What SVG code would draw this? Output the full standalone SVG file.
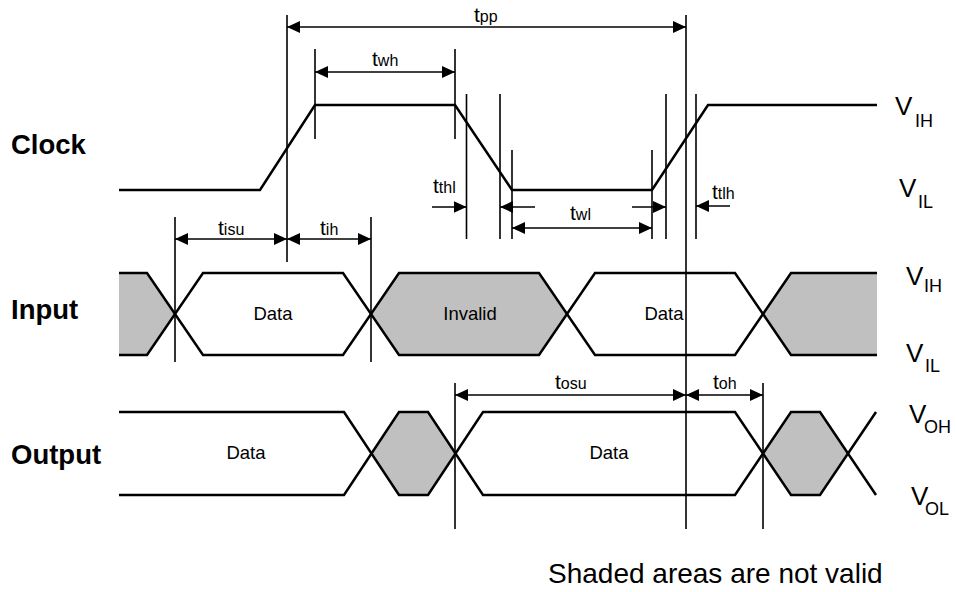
<svg xmlns="http://www.w3.org/2000/svg" width="956" height="592" viewBox="0 0 956 592">
<style>
text{font-family:"Liberation Sans",Arial,sans-serif;fill:#000}
.lbl{font-size:27.5px;font-weight:bold}
.dt{font-size:18.5px;text-anchor:middle}
.tm{font-size:21px}
.ts{font-size:16px}
.vm{font-size:26px}
.vs{font-size:18px}
.wave{fill:none;stroke:#000;stroke-width:2.5;stroke-linejoin:miter}
.ref{stroke:#000;stroke-width:1.6}
.dim{stroke:#000;stroke-width:1.6;fill:none}
.shade{fill:#c0c0c0;stroke:none}
</style>
<defs>
<marker id="ah" markerUnits="userSpaceOnUse" markerWidth="13" markerHeight="12" refX="13" refY="6" orient="auto-start-reverse">
<path d="M0,0 L13,6 L0,12 z" fill="#000"/>
</marker>
</defs>
<rect width="956" height="592" fill="#fff"/>

<g id="clock">
<polyline class="wave" points="119,190 260,190 315,105 455,105 512,190 652,190 708,105 877,105"/>
<text class="lbl" x="11" y="154">Clock</text>
<text x="895" y="115"><tspan class="vm">V</tspan></text>
<text x="915" y="127"><tspan class="vs">IH</tspan></text>
<text x="899" y="197"><tspan class="vm">V</tspan></text>
<text x="918" y="208"><tspan class="vs">IL</tspan></text>
</g>

<g id="input">
<polygon class="shade" points="119,273 147,273 175,314 147,355 119,355"/>
<polygon class="shade" points="371,314 399,273 539,273 567,314 539,355 399,355"/>
<polygon class="shade" points="763,314 791,273 877,273 877,355 791,355"/>
<path class="wave" d="M119,273 H147 L203,355 H343 L399,273 H539 L595,355 H735 L791,273 H877"/>
<path class="wave" d="M119,355 H147 L203,273 H343 L399,355 H539 L595,273 H735 L791,355 H877"/>
<text class="lbl" x="11" y="319">Input</text>
<text class="dt" x="273" y="320">Data</text>
<text class="dt" x="470" y="320">Invalid</text>
<text class="dt" x="664" y="320">Data</text>
<text x="906" y="285"><tspan class="vm">V</tspan></text>
<text x="924" y="292"><tspan class="vs">IH</tspan></text>
<text x="906" y="362"><tspan class="vm">V</tspan></text>
<text x="925" y="372"><tspan class="vs">IL</tspan></text>
</g>

<g id="output">
<polygon class="shade" points="371.5,453.5 399,412 428,412 455.5,453.5 428,495 399,495"/>
<polygon class="shade" points="763,453.5 791,412 820,412 848,453.5 820,495 791,495"/>
<path class="wave" d="M119,412 H344 L399,495 H428 L483,412 H735 L791,495 H820 L876,412"/>
<path class="wave" d="M119,495 H344 L399,412 H428 L483,495 H735 L791,412 H820 L876,495"/>
<text class="lbl" x="11" y="464">Output</text>
<text class="dt" x="246" y="459">Data</text>
<text class="dt" x="609" y="459">Data</text>
<text x="909" y="423"><tspan class="vm">V</tspan></text>
<text x="924" y="433"><tspan class="vs">OH</tspan></text>
<text x="911" y="505"><tspan class="vm">V</tspan></text>
<text x="925" y="515"><tspan class="vs">OL</tspan></text>
</g>

<g id="connectors">
<line class="ref" x1="287" y1="15" x2="287" y2="262"/>
<line class="ref" x1="315" y1="49" x2="315" y2="139"/>
<line class="ref" x1="455" y1="49" x2="455" y2="139"/>
<line class="ref" x1="466.5" y1="94" x2="466.5" y2="239"/>
<line class="ref" x1="500" y1="94" x2="500" y2="239"/>
<line class="ref" x1="512" y1="150" x2="512" y2="239"/>
<line class="ref" x1="652" y1="150" x2="652" y2="239"/>
<line class="ref" x1="666" y1="94" x2="666" y2="239"/>
<line class="ref" x1="686" y1="15" x2="686" y2="529"/>
<line class="ref" x1="696" y1="94" x2="696" y2="239"/>
<line class="ref" x1="175" y1="217" x2="175" y2="362"/>
<line class="ref" x1="371" y1="217" x2="371" y2="362"/>
<line class="ref" x1="455" y1="383" x2="455" y2="529"/>
<line class="ref" x1="763" y1="383" x2="763" y2="529"/>

<line class="dim" x1="287" y1="27" x2="686" y2="27" marker-start="url(#ah)" marker-end="url(#ah)"/>
<line class="dim" x1="315" y1="72" x2="455" y2="72" marker-start="url(#ah)" marker-end="url(#ah)"/>
<line class="dim" x1="432" y1="207" x2="466.5" y2="207" marker-end="url(#ah)"/>
<line class="dim" x1="535" y1="207" x2="500" y2="207" marker-end="url(#ah)"/>
<line class="dim" x1="632" y1="207" x2="666" y2="207" marker-end="url(#ah)"/>
<line class="dim" x1="730" y1="206" x2="696" y2="206" marker-end="url(#ah)"/>
<line class="dim" x1="512" y1="228" x2="652" y2="228" marker-start="url(#ah)" marker-end="url(#ah)"/>
<line class="dim" x1="175" y1="239" x2="287" y2="239" marker-start="url(#ah)" marker-end="url(#ah)"/>
<line class="dim" x1="287" y1="239" x2="371" y2="239" marker-start="url(#ah)" marker-end="url(#ah)"/>
<line class="dim" x1="455" y1="395" x2="686" y2="395" marker-start="url(#ah)" marker-end="url(#ah)"/>
<line class="dim" x1="686" y1="395" x2="763" y2="395" marker-start="url(#ah)" marker-end="url(#ah)"/>
</g>

<g id="labels">
<text x="474" y="22"><tspan class="tm">t</tspan><tspan class="ts">pp</tspan></text>
<text x="372" y="66"><tspan class="tm">t</tspan><tspan class="ts">wh</tspan></text>
<text x="433" y="193"><tspan class="tm">t</tspan><tspan class="ts">thl</tspan></text>
<text x="570" y="220"><tspan class="tm">t</tspan><tspan class="ts">wl</tspan></text>
<text x="712" y="199"><tspan class="tm">t</tspan><tspan class="ts">tlh</tspan></text>
<text x="218" y="235"><tspan class="tm">t</tspan><tspan class="ts">isu</tspan></text>
<text x="320" y="235"><tspan class="tm">t</tspan><tspan class="ts">ih</tspan></text>
<text x="555" y="389"><tspan class="tm">t</tspan><tspan class="ts">osu</tspan></text>
<text x="713" y="389"><tspan class="tm">t</tspan><tspan class="ts">oh</tspan></text>
<text x="548" y="583" style="font-size:28px">Shaded areas are not valid</text>
</g>
</svg>
